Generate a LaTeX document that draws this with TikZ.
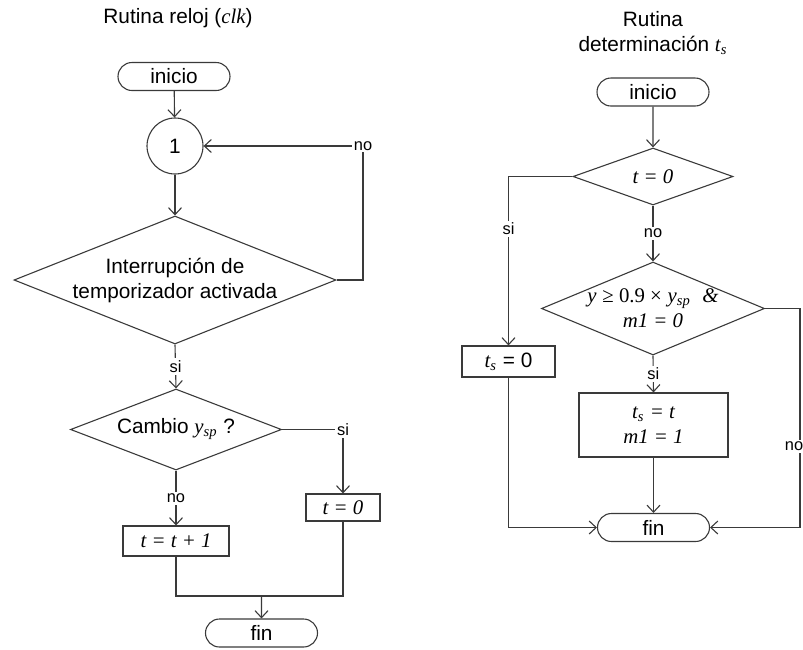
\documentclass[tikz,border=0pt]{standalone}
\usepackage{fontspec}
\setmainfont{Liberation Sans}
\newfontfamily\varfont{Liberation Serif}
\usetikzlibrary{arrows.meta, positioning, shapes.geometric, shapes.misc}
\definecolor{LineGray}{HTML}{3A3A3A}
\newcommand{\vr}[1]{{\varfont\itshape #1}}

\begin{document}
\begin{tikzpicture}[x=0.5pt, y=-0.5pt, >={Straight Barb[length=3.5pt, width=6.5pt]},
    every node/.style={font=\fontsize{10.4}{12.5}\selectfont, text=black},
    term/.style={draw=LineGray, line width=0.55pt, rounded rectangle, minimum width=56pt, minimum height=14pt, inner sep=0pt},
    proc/.style={draw=LineGray, line width=0.55pt, rectangle, inner sep=0pt, align=center},
    decis/.style={draw=LineGray, line width=0.55pt, diamond, inner sep=0pt, align=center},
    conn/.style={draw=LineGray, line width=0.55pt, circle, minimum size=28pt, inner sep=0pt},
    flow/.style={draw=LineGray, line width=0.55pt},
    lbl/.style={font=\fontsize{8.2}{10}\selectfont, fill=white, inner sep=1pt}]
    \useasboundingbox (0,0) rectangle (803,649);

    % -------------------------------------------------------------
    % LEFT: RUTINA RELOJ
    % -------------------------------------------------------------
    % 1. Title and nodes
    \node (titA) at (178,18) {Rutina reloj (\vr{clk})};
    \node[term] (inicioA) at (174,76.5) {inicio};
    \node[conn] (conA) at (175,146) {1};
    \node[decis, minimum width=161pt, minimum height=64pt, aspect=2.5] (intA) at (175,280)
        {Interrupción de\\temporizador activada};
    \node[decis, minimum width=105.5pt, minimum height=40.5pt, aspect=2.6] (cambioA) at (176,429.5)
        {Cambio \vr{y\textsubscript{sp}} ?};
    \node[proc, minimum width=37pt, minimum height=13.5pt] (tcero) at (343,507.5) {\vr{t = 0}};
    \node[proc, minimum width=53pt, minimum height=15pt] (tinc) at (176,541) {\vr{t = t + 1}};
    \node[term] (finA) at (261.5,633) {fin};
    \coordinate (noA) at (363,146);
    \coordinate (siA) at (343,429.5);
    \coordinate (mergeA) at (261.5,596);

    % 2. Connectors
    \draw[flow,->] (inicioA) -- (conA);
    \draw[flow,->] (conA) -- (intA);
    \draw[flow,->] (intA.east) -| (noA) node[lbl] (lnoA) {no} -- (conA.east);
    \draw[flow,->] (intA.south) -- node[lbl] (lsiA) {si} (cambioA.north);
    \draw[flow,->] (cambioA.east) -- (siA) node[lbl] (lsiB) {si} -- (tcero.north);
    \draw[flow,->] (cambioA.south) -- node[lbl] (lnoB) {no} (tinc.north);
    \draw[flow] (tinc.south) |- (mergeA) -| (tcero.south);
    \draw[flow,->] (mergeA) -- (finA);

    % -------------------------------------------------------------
    % RIGHT: RUTINA DETERMINACION t_s
    % -------------------------------------------------------------
    % 3. Title and nodes
    \node[align=center] (titB) at (653,33) {Rutina\\determinación \vr{t\textsubscript{s}}};
    \node[term] (inicioB) at (653,92) {inicio};
    \node[decis, minimum width=80pt, minimum height=28.5pt, aspect=2.8] (tcond) at (653,176.5) {\vr{t = 0}};
    \node[decis, minimum width=111.5pt, minimum height=46.5pt, aspect=2.4, inner sep=-3pt] (ycond) at (653,308.5)
        {\vr{y} {\varfont ≥ 0.9 ×} \vr{y\textsubscript{sp}}~~\vr{\&}\\\vr{m1 = 0}};
    \node[proc, minimum width=46.5pt, minimum height=15.5pt] (tsz) at (508.5,361.5) {\vr{t\textsubscript{s}} = 0};
    \node[proc, minimum width=74.5pt, minimum height=32pt] (tsasig) at (653.5,425)
        {\vr{t\textsubscript{s} = t}\\\vr{m1 = 1}};
    \node[term] (finB) at (653.5,527.5) {fin};
    \coordinate (cornB) at (800,527.5);

    % 4. Connectors
    \draw[flow,->] (inicioB) -- (tcond);
    \draw[flow,->] (tcond.west) -| node[lbl, pos=0.655] (lsiC) {si} (tsz.north);
    \draw[flow,->] (tsz.south) |- (finB.west);
    \draw[flow,->] (tcond.south) -- node[lbl] (lnoC) {no} (ycond.north);
    \draw[flow,->] (ycond.east) -| node[lbl, pos=0.814, xshift=-3pt] (lnoD) {no} (cornB) -- (finB.east);
    \draw[flow,->] (ycond.south) -- node[lbl] (lsiD) {si} (tsasig.north);
    \draw[flow,->] (tsasig.south) -- (finB.north);
\end{tikzpicture}
\end{document}
